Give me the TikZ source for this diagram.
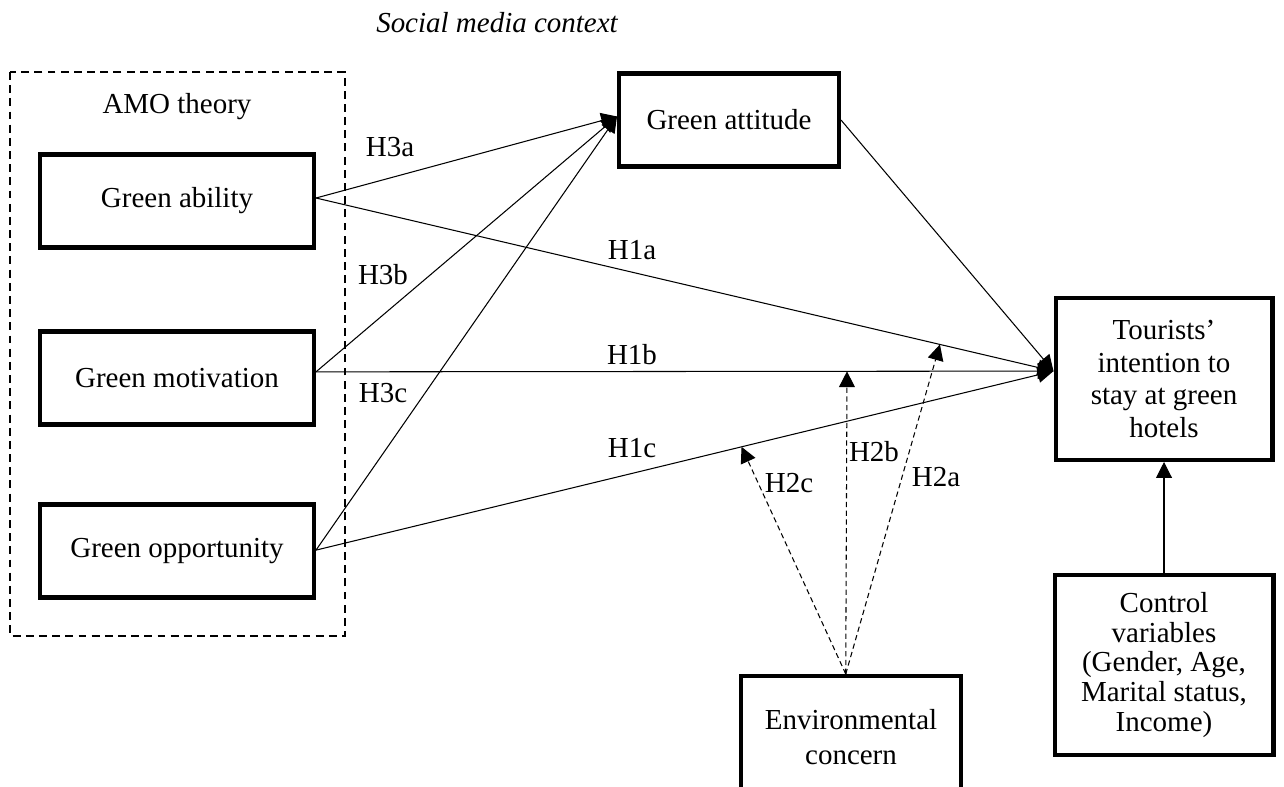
\documentclass[tikz,border=0pt]{standalone}
\usepackage{fontspec}
\setmainfont{Liberation Serif}
\usetikzlibrary{arrows.meta}

\begin{document}
\begin{tikzpicture}[x=0.02cm,y=-0.02cm,
    font=\fontsize{16.5}{19}\selectfont,
    box/.style={draw,line width =2.3pt,align=center,inner sep=2pt},
    link/.style={line width =0.6pt,-{Triangle[length=9pt,width=9pt]}},
    modlink/.style={link,dash pattern=on 3pt off 2pt}]
    \useasboundingbox (0,0) rectangle (1284,787);
    % AMO frame
    \draw [line width =0.6pt,dash pattern=on 4.5pt off 3pt] (10,72) rectangle (345,636);
    \node (amo) at (177,107) {AMO theory};
    \node (context) at (497,23) {\itshape Social media context};
    % constructs
    \node [box,minimum width=5.48cm,minimum height=1.86cm] (ability) at (177,201) {Green ability};
    \node [box,minimum width=5.48cm,minimum height=1.86cm] (motivation) at (177,378) {Green motivation};
    \node [box,minimum width=5.48cm,minimum height=1.86cm] (opportunity) at (177,551) {Green opportunity};
    \node [box,minimum width=4.4cm,minimum height=1.86cm] (attitude) at (729,120) {Green attitude};
    \node [box,minimum width=4.34cm,minimum height=3.24cm,font=\fontsize{16.5}{18.7}\selectfont]
        (intention) at (1164,379) {Tourists’\\intention to\\stay at green\\hotels};
    \node [box,minimum width=4.38cm,minimum height=3.6cm,font=\fontsize{16.5}{17}\selectfont]
        (control) at (1164,665) {Control\\variables\\(Gender, Age,\\Marital status,\\Income)};
    \node [box,minimum width=4.4cm,minimum height=2.44cm,font=\fontsize{16.5}{19.8}\selectfont]
        (concern) at (851,737) {Environmental\\concern};
    % H3 paths
    \draw [link] ([yshift=1.7pt]ability.east) -- ([yshift=2pt]attitude.west);
    \draw [link] ([yshift=3.5pt]motivation.east) -- ([yshift=2pt]attitude.west);
    \draw [link] ([yshift=0.5pt]opportunity.east) -- ([yshift=2pt]attitude.west);
    % H1 paths
    \draw [link] ([yshift=1.7pt]ability.east) -- ([yshift=4.5pt]intention.west) coordinate[pos=0.846] (tipA);
    \draw [link] ([yshift=3.5pt]motivation.east) -- ([yshift=4.5pt]intention.west) coordinate[pos=0.72] (tipB);
    \draw [link] ([yshift=0.5pt]opportunity.east) -- ([yshift=4.5pt]intention.west) coordinate[pos=0.577] (tipC);
    \draw [link] (attitude.east) -- ([yshift=4.5pt]intention.west);
    \draw [link] (control.north) -- (intention.south);
    % moderation
    \draw [modlink] ([xshift=-3pt]concern.north) -- (tipA);
    \draw [modlink] ([xshift=-3pt]concern.north) -- (tipB);
    \draw [modlink] ([xshift=-3pt]concern.north) -- (tipC);
    % labels
    \node (h3a) at (390,147) {H3a};
    \node (h3b) at (383,275) {H3b};
    \node (h3c) at (383,393) {H3c};
    \node (h1a) at (632,250) {H1a};
    \node (h1b) at (632,355) {H1b};
    \node (h1c) at (632,448) {H1c};
    \node (h2a) at (936,477) {H2a};
    \node (h2b) at (874,452) {H2b};
    \node (h2c) at (789,483) {H2c};
\end{tikzpicture}
\end{document}
